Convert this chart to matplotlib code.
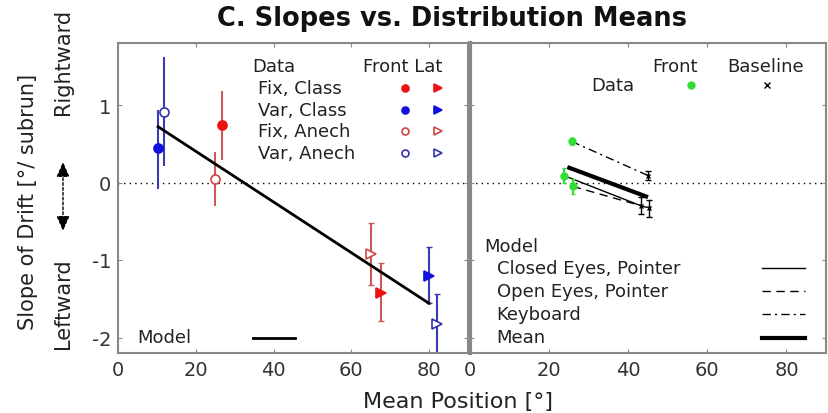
import matplotlib
matplotlib.use("Agg")
import matplotlib.pyplot as plt
from matplotlib.lines import Line2D
from matplotlib.transforms import blended_transform_factory

plt.rcParams['font.family'] = ['DejaVu Sans']
plt.rcParams['axes.unicode_minus'] = False

# ---------------- data (left panel) ----------------
conds = ['Fix, Class', 'Var, Class', 'Fix, Anech', 'Var, Anech']
front_x = [26.7, 10.3, 24.9, 11.8]
front_y = [0.74, 0.44, 0.05, 0.91]
front_lo = [0.29, -0.08, -0.30, 0.21]
front_hi = [1.18, 0.94, 0.40, 1.62]
lat_x = [67.7, 80.0, 65.1, 82.0]
lat_y = [-1.42, -1.21, -0.92, -1.82]
lat_lo = [-1.79, -1.56, -1.32, -2.35]
lat_hi = [-1.04, -0.83, -0.52, -1.44]
model_x = [10.3, 80.0]
model_y = [0.72, -1.56]

# ---------------- data (right panel) ----------------
tasks = ['Closed Eyes, Pointer', 'Open Eyes, Pointer', 'Keyboard', 'Mean']
task_styles = ['-', (0, (6, 4)), (0, (6, 3, 1.5, 3)), '-']
task_widths = [1.0, 1.0, 1.0, 3.0]
green_x = [23.7, 26.0, 25.7]
green_y = [0.09, -0.05, 0.53]
green_err = [0.10, 0.10, 0.05]
base_x = [43.2, 45.3, 45.0]
base_y = [-0.30, -0.33, 0.09]
base_err = [0.11, 0.11, 0.06]
mean_x = [25.1, 44.5]
mean_y = [0.19, -0.18]

# colours
red = '#ee1111'
blue = '#1111dd'
red_eb = '#cc5a5a'
blue_eb = '#3a3ab4'
red_open = '#cc4444'
blue_open = '#3333aa'
green = '#33dd33'
spine_col = '#888888'
txt = '#222222'

fig = plt.figure(figsize=(8.29, 4.14), dpi=100)
axL = fig.add_axes([118/829, 60/414, 350/829, 310/414])
axR = fig.add_axes([470/829, 60/414, 356/829, 310/414])

for ax in (axL, axR):
    ax.set_xlim(0, 90)
    ax.set_ylim(-2.2, 1.8)
    ax.set_xticks([0, 20, 40, 60, 80])
    ax.set_yticks([-2, -1, 0, 1])
    ax.tick_params(direction='in', top=True, right=True, length=3, width=0.8,
                   color=spine_col, labelsize=14, labelcolor='#333333', pad=5)
    for s in ax.spines.values():
        s.set_color(spine_col)
        s.set_linewidth(1.5)
    ax.axhline(0, color='black', linestyle=(0, (1, 3)), linewidth=1.0, zorder=1)
axR.set_yticklabels([])
axR.spines['left'].set_linewidth(3)

# ---------- left panel ----------
fcols = [red, blue, red, blue]
ebcols = [red_eb, blue_eb, red_eb, blue_eb]
ocols = [red_open, blue_open, red_open, blue_open]
filled = [True, True, False, False]
for i in range(4):
    fc = fcols[i] if filled[i] else 'white'
    ec = fcols[i] if filled[i] else ocols[i]
    axL.errorbar([front_x[i]], [front_y[i]],
                 yerr=[[front_y[i] - front_lo[i]], [front_hi[i] - front_y[i]]],
                 fmt='none', ecolor=ebcols[i], elinewidth=1.5, capsize=0, zorder=2)
    axL.plot(front_x[i], front_y[i], 'o', ms=6.5, mfc=fc, mec=ec, mew=1.2, zorder=4)
    axL.errorbar([lat_x[i]], [lat_y[i]],
                 yerr=[[lat_y[i] - lat_lo[i]], [lat_hi[i] - lat_y[i]]],
                 fmt='none', ecolor=ebcols[i], elinewidth=1.5, capsize=2.5, zorder=2)
    axL.plot(lat_x[i], lat_y[i], '>', ms=6.5, mfc=fc, mec=ec, mew=1.2, zorder=4)

axL.plot(model_x, model_y, color='black', linewidth=2, zorder=3)

# legend-like annotations (left)
tl = axL.transAxes
fs = 13
axL.text(0.385, 0.925, 'Data', transform=tl, fontsize=fs, va='center', ha='left', color=txt)
axL.text(0.70, 0.925, 'Front Lat', transform=tl, fontsize=fs, va='center', ha='left', color=txt)
rows_y = [0.855, 0.785, 0.715, 0.645]
for i in range(4):
    axL.text(0.40, rows_y[i], conds[i], transform=tl, fontsize=fs, va='center', ha='left', color=txt)
    fc = fcols[i] if filled[i] else 'white'
    ec = fcols[i] if filled[i] else ocols[i]
    axL.plot([0.82], [rows_y[i]], 'o', transform=tl, ms=5, mfc=fc, mec=ec, mew=1.2)
    axL.plot([0.915], [rows_y[i]], '>', transform=tl, ms=5.5, mfc=fc, mec=ec, mew=1.2)
axL.text(0.055, 0.05, 'Model', transform=tl, fontsize=fs, va='center', ha='left', color=txt)
axL.add_line(Line2D([0.385, 0.505], [0.05, 0.05], transform=tl, color='black', linewidth=2))

# ---------- right panel ----------
for i in range(3):
    axR.plot([green_x[i], base_x[i]], [green_y[i], base_y[i]], color='black',
             linestyle=task_styles[i], linewidth=task_widths[i], zorder=2)
axR.plot(mean_x, mean_y, color='black', linewidth=task_widths[3], zorder=3)
axR.errorbar(green_x, green_y, yerr=green_err, fmt='o', color=green, ms=5,
             elinewidth=1.5, capsize=1.5, zorder=4)
axR.errorbar(base_x, base_y, yerr=base_err, fmt='x', color='black', ms=3,
             elinewidth=1.0, capsize=2, zorder=4)

tr = axR.transAxes
axR.text(0.575, 0.925, 'Front', transform=tr, fontsize=fs, va='center', ha='center', color=txt)
axR.text(0.83, 0.925, 'Baseline', transform=tr, fontsize=fs, va='center', ha='center', color=txt)
axR.text(0.40, 0.865, 'Data', transform=tr, fontsize=fs, va='center', ha='center', color=txt)
axR.plot([0.62], [0.865], 'o', transform=tr, ms=5, color=green)
axR.plot([0.835], [0.865], 'x', transform=tr, ms=4, color='black', mew=1)
axR.text(0.04, 0.345, 'Model', transform=tr, fontsize=fs, va='center', ha='left', color=txt)
rows_r = [0.275, 0.20, 0.125, 0.05]
for i in range(4):
    axR.text(0.075, rows_r[i], tasks[i], transform=tr, fontsize=fs, va='center', ha='left', color=txt)
    axR.add_line(Line2D([0.82, 0.94], [rows_r[i], rows_r[i]], transform=tr, color='black',
                        linestyle=task_styles[i], linewidth=task_widths[i]))

# ---------- titles / labels ----------
fig.text(452/829, 1 - 19/414, 'C. Slopes vs. Distribution Means', ha='center', va='center',
         fontsize=18.5, fontweight='bold', color='#111111')
fig.text(458/829, 1 - 402/414, 'Mean Position [°]', ha='center', va='center', fontsize=16,
         color=txt)
fig.text(28/829, 1 - 202/414, 'Slope of Drift [°/ subrun]', ha='center', va='center',
         rotation=90, fontsize=15, color=txt)

bt = blended_transform_factory(fig.transFigure, axL.transData)
xl = 63/829
axL.text(xl, 1.57, 'Rightward', transform=bt, rotation=90, ha='center', va='center',
         fontsize=15, color=txt, clip_on=False)
axL.text(xl, -1.55, 'Leftward', transform=bt, rotation=90, ha='center', va='center',
         fontsize=15, color=txt, clip_on=False)
axL.annotate('', xy=(xl, 0.30), xycoords=bt, xytext=(xl, -0.66), textcoords=bt,
             arrowprops=dict(arrowstyle='<|-|>,head_length=0.9,head_width=0.4',
                             color='black', lw=1.0, linestyle=(0, (2, 1.5))),
             annotation_clip=False)

fig.savefig('out.png', dpi=100)
